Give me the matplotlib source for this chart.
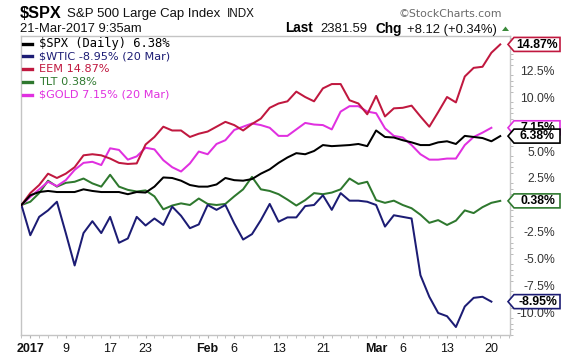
import numpy as np
import matplotlib
matplotlib.use('Agg')
import matplotlib.pyplot as plt
from matplotlib.patches import Polygon
from matplotlib.lines import Line2D
from matplotlib.transforms import IdentityTransform
from matplotlib.ticker import MultipleLocator

# ---------------- data (percent change since 30-Dec-2016, one point per trading day) -------------
spx = [0.0, 0.9, 1.2, 1.3, 1.2, 1.2, 1.2, 1.45, 1.3, 1.2,
       1.2, 1.2, 1.0, 1.2, 1.15, 1.7, 2.55, 2.5, 2.25, 1.85,
       1.7, 1.7, 1.9, 2.5, 2.3, 2.25, 2.4, 2.9, 3.3, 3.9,
       4.4, 4.8, 4.7, 5.0, 5.55, 5.45, 5.5, 5.55, 5.65, 5.45,
       6.9, 6.3, 6.25, 6.0, 5.8, 5.55, 5.55, 5.8, 5.9, 5.65,
       6.4, 6.3, 6.2, 5.9, 6.38]
wtic = [0.0, -2.8, -1.1, -0.5, 0.3, -2.6, -5.6, -2.6, -1.5, -2.6,
        -1.1, -3.5, -3.1, -1.1, -1.9, -1.25, -1.85, -0.15, -1.0, -2.15,
        -1.8, 0.0, -0.45, 0.0, -1.7, -3.2, -2.7, -1.4, 0.1, -1.55,
        -1.15, -1.15, -0.1, 0.0, 0.9, -0.45, 1.1, 0.4, 0.4, 0.3,
        0.0, -2.0, -0.95, -1.1, -1.25, -6.5, -8.5, -10.0, -10.3, -11.3,
        -9.4, -8.6, -8.5, -8.95]
eem = [0.0, 1.1, 1.85, 2.9, 2.5, 2.9, 3.5, 4.6, 4.7, 4.6,
       4.3, 3.9, 3.8, 3.85, 5.6, 6.3, 7.25, 6.9, 6.9, 6.3,
       6.6, 6.8, 7.25, 7.7, 7.4, 6.9, 7.5, 8.0, 9.0, 9.4,
       9.6, 10.5, 10.0, 9.6, 10.8, 11.2, 11.2, 9.7, 9.4, 8.4,
       10.1, 8.2, 8.95, 9.0, 9.2, 8.2, 7.25, 8.6, 10.0, 9.5,
       11.9, 12.7, 12.8, 14.1, 14.87]
tlt = [0.0, 0.3, 1.1, 2.25, 1.7, 2.05, 2.15, 2.45, 2.0, 1.7,
       2.8, 1.7, 1.4, 1.25, 1.35, 0.8, -0.4, -0.05, 0.15, 0.0,
       0.6, 0.1, 0.0, 0.1, 0.8, 1.45, 2.6, 1.45, 1.3, 1.0,
       0.5, -0.05, 0.45, 1.1, 1.0, 1.15, 1.45, 2.45, 1.95, 2.15,
       0.45, 0.2, 0.4, 0.0, -0.3, -0.9, -1.65, -1.4, -1.85, -1.45,
       -0.5, -0.75, -0.2, 0.2, 0.38]
gold = [0.0, 0.75, 1.45, 2.15, 1.75, 2.3, 3.25, 3.9, 4.0, 3.7,
        5.25, 5.1, 4.2, 4.5, 5.3, 5.15, 4.15, 3.5, 3.1, 3.85,
        4.95, 4.7, 5.65, 6.0, 6.95, 7.25, 7.55, 7.4, 7.15, 6.4,
        6.4, 7.0, 7.6, 7.45, 7.4, 7.0, 8.65, 9.15, 9.15, 8.65,
        8.5, 7.1, 6.4, 6.25, 5.55, 4.7, 4.2, 4.2, 4.3, 4.3,
        5.55, 6.3, 6.7, 7.15]

legend_labels = ['$SPX (Daily) 6.38%', '$WTIC -8.95% (20 Mar)', 'EEM 14.87%',
                 'TLT 0.38%', '$GOLD 7.15% (20 Mar)']
end_labels = ['6.38%', '-8.95%', '14.87%', '0.38%', '7.15%']
colors = ['#000000', '#1c1c74', '#c0183f', '#2e782e', '#e030e0']

x_tick_pos = [1, 5, 10, 14, 21, 24, 29, 34, 40, 43, 48, 53]
x_tick_labels = ['2017', '9', '17', '23', 'Feb', '6', '13', '21', 'Mar', '6', '13', '20']
x_tick_bold = [True, False, False, False, True, False, False, False, True, False, False, False]
y_ticks = [-10.0, -7.5, -5.0, -2.5, 2.5, 5.0, 7.5, 10.0, 12.5]

title_sym = '$SPX'
title_name = 'S&P 500 Large Cap Index'
title_ex = 'INDX'
date_txt = '21-Mar-2017 9:35am'
last_val = '2381.59'
chg_val = '+8.12 (+0.34%)'
brand = '\u00a9StockCharts.com'

# ---------------- figure -------------
W, H = 576, 356
fig = plt.figure(figsize=(W / 100, H / 100), dpi=100)
fig.patch.set_facecolor('white')

L, R, T, B = 21, 510, 36, 335
ax = fig.add_axes([L / W, (H - B) / H, (R - L) / W, (B - T) / H])
ax.set_facecolor('white')

series = [spx, wtic, eem, tlt, gold]
draw_order = [3, 1, 4, 2, 0]
for k in draw_order:
    vals = series[k]
    ax.plot(np.arange(len(vals)), vals, color=colors[k], lw=1.45, solid_joinstyle='round', zorder=3)

ax.set_xlim(-0.05, 55.1)
ax.set_ylim(-12.04, 15.65)

for s in ax.spines.values():
    s.set_color('#c4c4c4')
    s.set_linewidth(1.0)

ax.yaxis.tick_right()
ax.set_yticks(y_ticks)
ax.set_yticklabels(['%.1f%%' % v for v in y_ticks])
ax.yaxis.set_minor_locator(MultipleLocator(0.5))
ax.tick_params(axis='y', which='major', length=0, pad=32.4, labelsize=8.8,
               labelcolor='#333333')
ax.tick_params(axis='y', which='minor', length=2, color='#b0b0b0', direction='out')
for lbl in ax.get_yticklabels():
    lbl.set_horizontalalignment('right')
    lbl.set_fontfamily('Liberation Sans')

ax.set_xticks(x_tick_pos)
ax.set_xticklabels(x_tick_labels)
ax.xaxis.set_minor_locator(MultipleLocator(1))
ax.tick_params(axis='x', which='major', length=2, pad=4.0, labelsize=9,
               color='#b0b0b0', labelcolor='#111111')
ax.tick_params(axis='x', which='minor', length=2, color='#b8b8b8')
for lbl, b in zip(ax.get_xticklabels(), x_tick_bold):
    lbl.set_fontfamily('Liberation Sans')
    lbl.set_fontweight('bold' if b else 'normal')

ID = IdentityTransform()


def ftext(x, ytop, s, **kw):
    fig.text(x, H - ytop, s, transform=ID, **kw)


# header
ftext(20, 17.5, title_sym, fontsize=11.7, fontweight='bold', family='Liberation Sans', va='baseline')
ftext(67, 17.0, title_name, fontsize=9.5, family='Liberation Sans', va='baseline', color='#111111')
ftext(227, 17.0, title_ex, fontsize=8.4, family='Liberation Sans', va='baseline', color='#111111')
ftext(20, 32.5, date_txt, fontsize=9.4, family='Liberation Sans', va='baseline', color='#111111')
ftext(285, 32.5, 'Last', fontsize=9.8, fontweight='bold', family='Liberation Sans', va='baseline')
ftext(320, 32.5, last_val, fontsize=9.4, family='Liberation Sans', va='baseline', color='#111111')
ftext(375, 32.5, 'Chg', fontsize=9.8, fontweight='bold', family='Liberation Sans', va='baseline')
ftext(407, 32.5, chg_val, fontsize=9.4, family='Liberation Sans', va='baseline', color='#111111')
ftext(398, 17.0, brand, fontsize=7.8, family='DejaVu Sans', va='baseline', color='#6a6a6a')
fig.add_artist(Polygon([[502, H - 31], [509, H - 31], [505.5, H - 26.5]], closed=True,
                       transform=ID, facecolor='#3a8a3a', edgecolor='none'))

# legend
for k, lab in enumerate(legend_labels):
    yc = 43.5 + 12.8 * k
    fig.add_artist(Line2D([23, 32], [H - yc, H - yc], transform=ID, color=colors[k], lw=2.4))
    if k == 0:
        ftext(39, yc, lab, fontsize=8.7, family='DejaVu Sans Mono', va='center', color=colors[k])
    else:
        ftext(39, yc, lab, fontsize=8.1, family='DejaVu Sans', va='center', color=colors[k])

# end-value tags
tag_order = [2, 3, 1, 4, 0]
for z, k in enumerate(tag_order):
    v = series[k][-1]
    yd = ax.transData.transform((0, v))[1]
    tip, x0, x1, hh = 508, 514, 560, 7
    poly = Polygon([[tip, yd], [x0, yd + hh], [x1, yd + hh], [x1, yd - hh], [x0, yd - hh]],
                   closed=True, transform=ID, facecolor='white', edgecolor=colors[k],
                   lw=1.2, zorder=10 + z)
    fig.add_artist(poly)
    fig.text((x0 + x1) / 2 + 0.5, yd - 0.3, end_labels[k], transform=ID, ha='center', va='center',
             fontsize=8.8, fontweight='bold', family='Liberation Sans',
             color='black', zorder=10 + z)

fig.savefig('out.png', dpi=100, facecolor='white')
